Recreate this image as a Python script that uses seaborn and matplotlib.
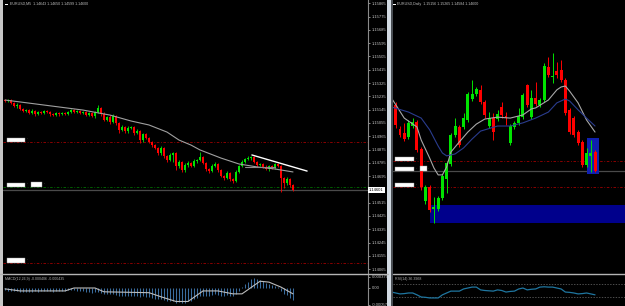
import numpy as np
import matplotlib
matplotlib.use("Agg")
import matplotlib.pyplot as plt
import seaborn as sns
from matplotlib.patches import Rectangle
from matplotlib.lines import Line2D
from matplotlib.transforms import blended_transform_factory

# ---------------- data ----------------
left_title = "EURUSD,M5  1.14643 1.14650 1.14599 1.14600"
right_title = "EURUSD,Daily  1.15156 1.15265 1.14584 1.14600"
macd_title = "MACD(12,26,9) -0.000406 -0.000435"
rsi_title = "RSI(14) 36.3968"

# M5 chart (left)
m5_first_open = 1.15210
m5_close = [1.15203, 1.15210, 1.15190, 1.15169, 1.15176, 1.15149, 1.15136, 1.15142, 1.15122, 1.15136,
            1.15115, 1.15129, 1.15122, 1.15136, 1.15129, 1.15115, 1.15108, 1.15122, 1.15115, 1.15122,
            1.15115, 1.15129, 1.15142, 1.15129, 1.15136, 1.15122, 1.15129, 1.15108, 1.15122, 1.15102,
            1.15129, 1.15156, 1.15115, 1.15075, 1.15095, 1.15061, 1.15102, 1.15054, 1.15007, 1.15027,
            1.15000, 1.15020, 1.15027, 1.14987, 1.15000, 1.14939, 1.14980, 1.14953, 1.14926, 1.14905,
            1.14885, 1.14851, 1.14885, 1.14831, 1.14804, 1.14838, 1.14851, 1.14763, 1.14790, 1.14736,
            1.14770, 1.14784, 1.14763, 1.14797, 1.14804, 1.14824, 1.14784, 1.14743, 1.14729, 1.14763,
            1.14777, 1.14736, 1.14696, 1.14682, 1.14716, 1.14675, 1.14662, 1.14723, 1.14763, 1.14790,
            1.14811, 1.14817, 1.14824, 1.14790, 1.14770, 1.14777, 1.14757, 1.14743, 1.14763, 1.14750,
            1.14777, 1.14763, 1.14682, 1.14648, 1.14675, 1.14635, 1.14601]
m5_wick_up_pts = [7, 10, 5, 8, 12, 6, 9, 7, 5, 10, 8, 6, 9, 7, 5, 8, 6, 10, 7, 5,
                  9, 6, 8, 10, 7, 5, 9, 6, 8, 7, 10, 20, 8, 12, 9, 14, 10, 8, 6, 12,
                  9, 14, 10, 7, 12, 8, 10, 9, 7, 8, 6, 9, 14, 8, 7, 12, 10, 8, 14, 9,
                  12, 10, 8, 15, 10, 34, 9, 8, 7, 14, 12, 9, 8, 7, 12, 8, 7, 15, 10, 12,
                  9, 14, 10, 8, 7, 9, 8, 10, 7, 9, 8, 10, 6, 8, 12, 7, 5]
m5_wick_dn_pts = [8, 6, 9, 7, 10, 6, 8, 9, 7, 5, 10, 8, 6, 9, 7, 12, 8, 6, 10, 7,
                  8, 9, 6, 7, 10, 8, 6, 9, 7, 8, 12, 9, 14, 10, 8, 12, 9, 10, 20, 8,
                  10, 12, 9, 14, 10, 20, 12, 8, 10, 14, 9, 12, 10, 15, 12, 10, 47, 27, 12, 14,
                  10, 12, 9, 8, 14, 10, 8, 12, 10, 9, 8, 12, 10, 14, 9, 12, 15, 8, 10, 9,
                  7, 8, 10, 9, 12, 8, 10, 9, 12, 8, 10, 9, 95, 34, 12, 14, 10]
m5_ma_idx = [0, 13, 26, 35, 42, 48, 54, 58, 62, 65, 72, 78, 84, 90, 96]
m5_ma = [1.15210, 1.15176, 1.15142, 1.15108, 1.15068, 1.15041, 1.14993, 1.14939,
         1.14905, 1.14872, 1.14817, 1.14777, 1.14757, 1.14743, 1.14723]
trend_idx = [82.3, 100.7]
trend_price = [1.14838, 1.14729]
flat_idx = [80, 90]
flat_price = [1.14757, 1.14757]
left_ticks = [1.15865, 1.15775, 1.15685, 1.15595, 1.15505, 1.15415, 1.15325, 1.15235, 1.15145,
              1.15055, 1.14965, 1.14875, 1.14785, 1.14695, 1.14605, 1.14515, 1.14425, 1.14335,
              1.14245, 1.14155, 1.14065]

# shared horizontal levels
level_red = [1.14926, 1.14106]
level_green = 1.14621
price_now = 1.14601

# MACD (left sub-window)
macd_hist = [-0.00008, -0.00009, -0.00010, -0.00011, -0.00010, -0.00012, -0.00013, -0.00012, -0.00013, -0.00012,
             -0.00011, -0.00012, -0.00010, -0.00009, -0.00010, -0.00011, -0.00012, -0.00010, -0.00009, -0.00010,
             -0.00009, -0.00008, -0.00007, -0.00008, -0.00009, -0.00010, -0.00011, -0.00012, -0.00014, -0.00016,
             -0.00015, -0.00013, -0.00016, -0.00019, -0.00020, -0.00022, -0.00021, -0.00023, -0.00026, -0.00027,
             -0.00028, -0.00027, -0.00026, -0.00028, -0.00027, -0.00030, -0.00029, -0.00030, -0.00032, -0.00034,
             -0.00036, -0.00039, -0.00038, -0.00042, -0.00046, -0.00045, -0.00044, -0.00050, -0.00049, -0.00052,
             -0.00050, -0.00046, -0.00043, -0.00038, -0.00033, -0.00028, -0.00026, -0.00027, -0.00028, -0.00025,
             -0.00022, -0.00023, -0.00026, -0.00027, -0.00024, -0.00026, -0.00027, -0.00020, -0.00010, 0.00005,
             0.00015, 0.00022, 0.00030, 0.00033, 0.00031, 0.00027, 0.00024, 0.00018, 0.00014, 0.00010,
             0.00008, 0.00004, -0.00010, -0.00020, -0.00025, -0.00033, -0.00040]
macd_sig_idx = [0, 5, 20, 23, 30, 33, 48, 52, 57, 61, 66, 71, 76, 79, 85, 88, 92, 96]
macd_sig = [-0.00003, -0.00010, -0.00010, 0.0, 0.0, -0.00013, -0.00016, -0.00030, -0.00046,
            -0.00046, -0.00010, -0.00010, -0.00020, -0.00020, 0.00023, 0.00020, 0.00003, -0.00020]
macd_ticks = [0.000375, 0.0, -0.000575]
macd_tick_labels = ["0.000375", "0.00", "-0.000575"]

# Daily chart (right)
d1_open = [1.1707, 1.1669, 1.1594, 1.1581, 1.1568, 1.1603, 1.1616, 1.1531, 1.1367, 1.1411,
           1.1342, 1.1342, 1.1376, 1.1436, 1.1483, 1.1575, 1.1600, 1.1600, 1.1622, 1.1688,
           1.1704, 1.1717, 1.1679, 1.1603, 1.1628, 1.1625, 1.1663, 1.1635, 1.1550, 1.1600,
           1.1613, 1.1631, 1.1732, 1.1631, 1.1691, 1.1669, 1.1685, 1.1789, 1.1757, 1.1776,
           1.1780, 1.1748, 1.1654, 1.1628, 1.1584, 1.1553, 1.1480, 1.1509, 1.1521]
d1_high = [1.1717, 1.1679, 1.1603, 1.1613, 1.1622, 1.1628, 1.1622, 1.1537, 1.1417, 1.1417,
           1.1379, 1.1383, 1.1452, 1.1493, 1.1581, 1.1628, 1.1606, 1.1644, 1.1710, 1.1748,
           1.1726, 1.1732, 1.1685, 1.1647, 1.1644, 1.1654, 1.1679, 1.1647, 1.1609, 1.1619,
           1.1660, 1.1707, 1.1735, 1.1717, 1.1742, 1.1691, 1.1802, 1.1820, 1.1833, 1.1805,
           1.1811, 1.1754, 1.1660, 1.1635, 1.1591, 1.1559, 1.1534, 1.1559, 1.1528]
d1_low = [1.1559, 1.1597, 1.1568, 1.1556, 1.1562, 1.1597, 1.1521, 1.1402, 1.1357, 1.1332,
          1.1298, 1.1335, 1.1370, 1.1392, 1.1477, 1.1568, 1.1537, 1.1594, 1.1616, 1.1682,
          1.1698, 1.1672, 1.1628, 1.1597, 1.1559, 1.1619, 1.1628, 1.1606, 1.1543, 1.1594,
          1.1606, 1.1625, 1.1663, 1.1625, 1.1666, 1.1663, 1.1679, 1.1757, 1.1739, 1.1754,
          1.1742, 1.1638, 1.1578, 1.1568, 1.1543, 1.1474, 1.1474, 1.1458, 1.1458]
d1_close = [1.1565, 1.1606, 1.1575, 1.1562, 1.1613, 1.1616, 1.1528, 1.1411, 1.1411, 1.1339,
            1.1348, 1.1376, 1.1446, 1.1487, 1.1575, 1.1603, 1.1543, 1.1628, 1.1704, 1.1704,
            1.1720, 1.1679, 1.1638, 1.1628, 1.1584, 1.1641, 1.1638, 1.1628, 1.1603, 1.1613,
            1.1635, 1.1701, 1.1669, 1.1691, 1.1672, 1.1685, 1.1792, 1.1764, 1.1761, 1.1764,
            1.1748, 1.1644, 1.1584, 1.1575, 1.1550, 1.1480, 1.1518, 1.1518, 1.1461]
d1_ma_gray_idx = [0, 3, 6, 7, 9, 10, 11, 12, 13, 14, 16, 18, 20, 22, 25, 28, 31, 33, 34, 37,
                  39, 40, 41, 42, 44, 46, 48]
d1_ma_gray = [1.1691, 1.1628, 1.1600, 1.1559, 1.1502, 1.1471, 1.1449, 1.1449, 1.1474, 1.1521,
              1.1553, 1.1584, 1.1609, 1.1625, 1.1631, 1.1628, 1.1638, 1.1657, 1.1660, 1.1685,
              1.1717, 1.1726, 1.1729, 1.1713, 1.1676, 1.1622, 1.1584]
d1_ma_blue_idx = [0, 4, 7, 9, 11, 12, 13, 15, 17, 19, 21, 25, 28, 31, 34, 37, 39, 41, 42, 44, 46, 48]
d1_ma_blue = [1.1663, 1.1647, 1.1628, 1.1591, 1.1540, 1.1518, 1.1509, 1.1515, 1.1534, 1.1562,
              1.1587, 1.1603, 1.1603, 1.1613, 1.1628, 1.1647, 1.1676, 1.1688, 1.1682, 1.1654,
              1.1628, 1.1603]
zone_big = [9.07, 1.1298, 1.1354]          # start index, low, high (extends right)
zone_small = [46.1, 48.9, 1.1452, 1.1565]  # start, end, low, high
rsi = [45, 42, 39, 40, 42, 42, 36, 29, 28, 26, 26, 26, 36, 42, 48, 48, 48, 55, 58, 61,
       61, 52, 50, 49, 48, 52, 50, 45, 47, 48, 55, 58, 52, 54, 55, 61, 62, 61, 61, 58,
       55, 45, 44, 42, 39, 40, 42, 39, 36]
rsi_levels = [70, 30]

# ---------------- style ----------------
sns.set_theme(style="dark", rc={"axes.facecolor": "black", "figure.facecolor": "black"})
plt.rcParams['font.family'] = ['Liberation Sans', 'DejaVu Sans']

BULL, BEAR = '#00e400', '#ff0000'
LBL = '#c4c4c4'
W, H = 625, 306

fig = plt.figure(figsize=(6.25, 3.06), dpi=100, facecolor='black')


def rect(x0, y0, x1, y1):
    return [x0 / W, 1 - y1 / H, (x1 - x0) / W, (y1 - y0) / H]


axL = fig.add_axes(rect(3, 0, 368, 273))
axM = fig.add_axes(rect(3, 275, 368, 306))
axR = fig.add_axes(rect(393, 0, 625, 273))
axS = fig.add_axes(rect(393, 275, 625, 306))
for ax in (axL, axM, axR, axS):
    ax.set_facecolor('black')
    ax.grid(False)
    for s in ax.spines.values():
        s.set_visible(False)
    ax.set_xticks([])


def candles(ax, o, h, l, c, width, min_h, lw):
    o, h, l, c = map(np.asarray, (o, h, l, c))
    x = np.arange(len(c))
    cols = np.where(c >= o, BULL, BEAR)
    ax.vlines(x, l, h, colors=cols, lw=lw, zorder=3)
    ax.bar(x, np.maximum(np.abs(c - o), min_h), bottom=np.minimum(o, c), width=width,
           color=cols, linewidth=0, zorder=4)


def levels(ax):
    for lv in level_red:
        ax.axhline(lv, color='#a00000', lw=0.6, ls=(0, (3, 2, 1, 2)), zorder=1)
    ax.axhline(level_green, color='#007000', lw=0.6, ls=(0, (3, 2, 1, 2)), zorder=1)
    ax.axhline(price_now, color='#4a4a4a', lw=0.9, zorder=1)


def tag(ax, x0, w, price, h):
    tr = blended_transform_factory(ax.transAxes, ax.transData)
    ax.add_patch(Rectangle((x0, price), w, h, transform=tr, fc='white', ec='#9a9a9a',
                           lw=0.3, zorder=6))
    ax.text(x0 + w + 0.004, price + h / 2, "\u00b7", transform=tr, color='#909090',
            fontsize=3, va='center', ha='left', zorder=6)


# ---- left M5 chart ----
m5_c = np.asarray(m5_close)
m5_o = np.r_[m5_first_open, m5_c[:-1]]
m5_h = np.maximum(m5_o, m5_c) + np.asarray(m5_wick_up_pts) * 1e-5
m5_l = np.minimum(m5_o, m5_c) - np.asarray(m5_wick_dn_pts) * 1e-5
levels(axL)
candles(axL, m5_o, m5_h, m5_l, m5_c, 0.62, 0.00004, 0.6)
sns.lineplot(x=m5_ma_idx, y=m5_ma, ax=axL, color='#a0a0a0', lw=0.8, estimator=None, sort=False, zorder=5)
sns.lineplot(x=flat_idx, y=flat_price, ax=axL, color='#8c8c8c', lw=0.8, estimator=None, sort=False, zorder=5)
sns.lineplot(x=trend_idx, y=trend_price, ax=axL, color='white', lw=1.0, estimator=None, sort=False, zorder=5)
axL.set_xlim(-0.667, 121)
axL.set_ylim(1.14039, 1.15887)
tag(axL, 0.011, 0.049, level_red[0], 0.00030)
tag(axL, 0.011, 0.049, level_green, 0.00030)
tag(axL, 0.077, 0.030, level_green, 0.00034)
tag(axL, 0.011, 0.049, level_red[1], 0.00033)
axL.yaxis.tick_right()
shown = [t for t in left_ticks if abs(t - price_now) > 0.0002]
axL.set_yticks(shown)
axL.set_yticklabels([f"{t:.5f}" for t in shown])
axL.tick_params(axis='y', colors=LBL, labelsize=3, length=1.5, width=0.5, pad=1.2)
axL.spines['right'].set_visible(True)
axL.spines['right'].set_color('#8a8a8a')
axL.spines['right'].set_linewidth(0.8)
trL = blended_transform_factory(axL.transAxes, axL.transData)
axL.text(1.003, price_now, f"{price_now:.5f}", transform=trL, fontsize=3, color='black',
         va='center', ha='left', clip_on=False,
         bbox=dict(boxstyle='square,pad=0.25', fc='white', ec='none'))
axL.set_xlabel(''); axL.set_ylabel('')

# ---- MACD ----
axM.vlines(np.arange(len(macd_hist)), 0, macd_hist, color='#3a6c9e', lw=0.75)
sns.lineplot(x=macd_sig_idx, y=macd_sig, ax=axM, color='#bcbcbc', lw=0.8, estimator=None, sort=False)
axM.set_xlim(-0.667, 121)
axM.set_ylim(-0.000614, 0.000443)
axM.yaxis.tick_right()
axM.set_yticks(macd_ticks)
axM.set_yticklabels(macd_tick_labels)
axM.tick_params(axis='y', colors=LBL, labelsize=3, length=1.5, width=0.5, pad=1.2)
axM.spines['right'].set_visible(True)
axM.spines['right'].set_color('#8a8a8a')
axM.spines['right'].set_linewidth(0.8)
axM.text(0.005, 0.95, macd_title, transform=axM.transAxes, fontsize=2.6, color='#b0b0b0', va='top')
axM.set_xlabel(''); axM.set_ylabel('')

# ---- right Daily chart ----
levels(axR)
axR.add_patch(Rectangle((zone_big[0], zone_big[1]), 60, zone_big[2] - zone_big[1],
                        fc='#00008c', ec='none', zorder=2))
axR.add_patch(Rectangle((zone_small[0], zone_small[2]), zone_small[1] - zone_small[0],
                        zone_small[3] - zone_small[2], fc='#1020b0', ec='none', zorder=2))
candles(axR, d1_open, d1_high, d1_low, d1_close, 0.7, 0.0002, 0.7)
sns.lineplot(x=d1_ma_gray_idx, y=d1_ma_gray, ax=axR, color='#a8a8a8', lw=0.8, estimator=None, sort=False, zorder=5)
sns.lineplot(x=d1_ma_blue_idx, y=d1_ma_blue, ax=axR, color='#2a3c8e', lw=0.8, estimator=None, sort=False, zorder=5)
axR.set_xlim(0.35, 55.07)
axR.set_ylim(1.1140, 1.2000)
axR.set_yticks([])
tag(axR, 0.009, 0.082, level_red[0], 0.0012)
tag(axR, 0.009, 0.082, level_green, 0.0012)
tag(axR, 0.116, 0.030, level_green - 0.0002, 0.0016)
tag(axR, 0.009, 0.082, level_red[1], 0.0013)
axR.set_xlabel(''); axR.set_ylabel('')

# ---- RSI ----
for lv in rsi_levels:
    axS.axhline(lv, color='#6c6c6c', lw=0.5, ls=(0, (2, 2)))
sns.lineplot(x=np.arange(len(rsi)), y=rsi, ax=axS, color='#1f76a0', lw=0.9, estimator=None, sort=False)
axS.set_xlim(0.35, 55.07)
axS.set_ylim(0, 100)
axS.set_yticks([])
axS.text(0.01, 0.95, rsi_title, transform=axS.transAxes, fontsize=2.6, color='#b0b0b0', va='top')
axS.set_xlabel(''); axS.set_ylabel('')

# ---- window chrome ----
fig.text(10 / W, 1 - 4 / H, left_title, fontsize=2.6, color='#c0c0c0', va='center', ha='left')
fig.text(397 / W, 1 - 4 / H, right_title, fontsize=2.6, color='#c0c0c0', va='center', ha='left')
fig.add_artist(Rectangle((5 / W, 1 - 5 / H), 2.5 / W, 1.5 / H, transform=fig.transFigure, fc='white', ec='none'))
fig.add_artist(Rectangle((393 / W, 1 - 5 / H), 2.5 / W, 1.5 / H, transform=fig.transFigure, fc='white', ec='none'))
fig.add_artist(Line2D([0, 388 / W], [1 - 274 / H] * 2, color='#b4b4b4', lw=1.0, transform=fig.transFigure))
fig.add_artist(Line2D([393 / W, 1], [1 - 274 / H] * 2, color='#b4b4b4', lw=1.0, transform=fig.transFigure))
fig.add_artist(Rectangle((0, 0), 3 / W, 1, transform=fig.transFigure, fc='#c6c6c6', ec='none'))
fig.add_artist(Rectangle((387 / W, 0), 4 / W, 1, transform=fig.transFigure, fc='#d2dae2', ec='none'))
fig.add_artist(Rectangle((391 / W, 0), 2 / W, 1, transform=fig.transFigure, fc='#4a4f55', ec='none'))

fig.savefig('out.png', dpi=100, facecolor='black')
